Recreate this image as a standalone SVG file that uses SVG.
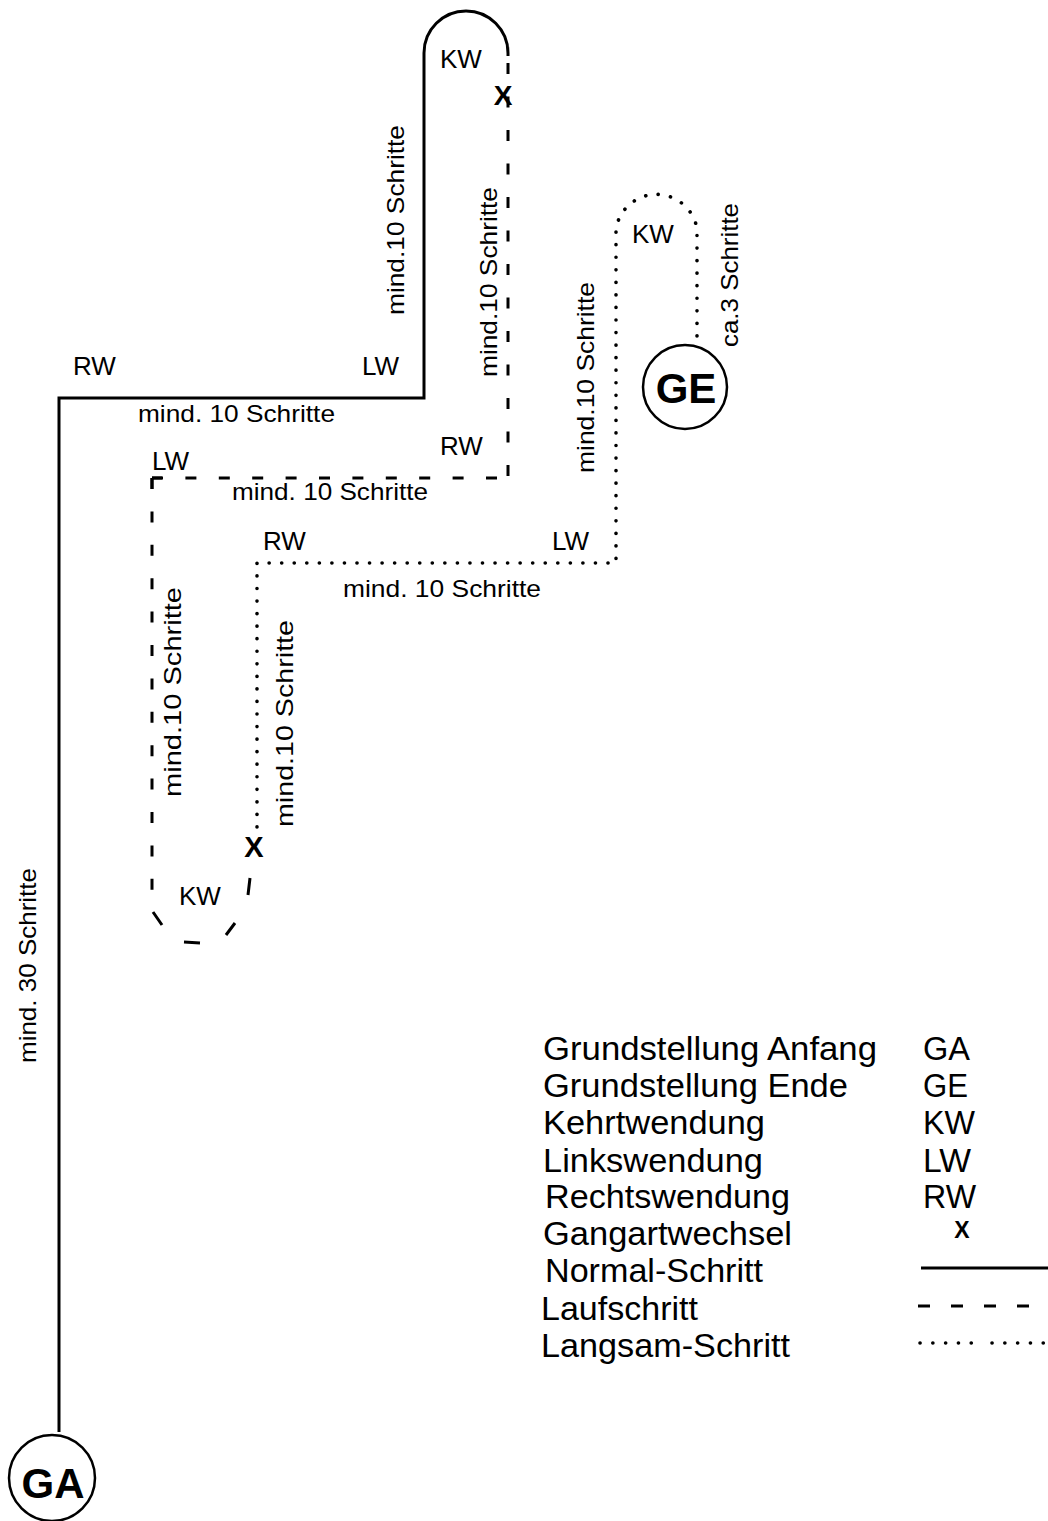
<svg xmlns="http://www.w3.org/2000/svg" width="1048" height="1521" viewBox="0 0 1048 1521">
<style>
text{font-family:"Liberation Sans",Arial,sans-serif;fill:#000}
.lbl{font-size:26px}
.sm{font-size:24px}
.leg{font-size:33px}
.bold{font-weight:bold}
.solid{fill:none;stroke:#000;stroke-width:3}
.dash{fill:none;stroke:#000;stroke-width:3;stroke-dasharray:11 22.4}
.dot{fill:none;stroke:#000;stroke-width:3.6;stroke-linecap:round;stroke-dasharray:0.1 12.45}
.node{fill:#fff;stroke:#000;stroke-width:2.5}
</style>
<rect width="1048" height="1521" fill="#fff"/>
<g id="connectors">
  <path class="solid" d="M59 1432 V398 H424 V53 A42 42 0 0 1 508 53 V56"/>
  <path class="dash" style="stroke-dasharray:11 22.5" d="M508 63 V478"/>
  <path class="dash" d="M152 478 H508"/>
  <path class="dash" d="M152 478 V890"/>
  <path class="dash" d="M152 478 V489 M152 478 H162" style="stroke-dasharray:none"/>
  <path class="solid" d="M153 912 L162 925 M184 942 L200 943 M226 935 L235 923 M248 895 L250 878"/>
  <path class="dot" d="M257 827 V563 H616 V229 A41 41 0 0 1 697 229 V342"/>
</g>
<g id="GA"><circle class="node" cx="52" cy="1478" r="43"/><text class="bold" x="53" y="1498" font-size="42" text-anchor="middle">GA</text></g>
<g id="GE"><circle class="node" cx="685" cy="387" r="42"/><text class="bold" x="686" y="403" font-size="42" text-anchor="middle">GE</text></g>
<g id="marks">
  <text class="bold" x="503" y="105" font-size="28" text-anchor="middle">X</text>
  <text class="bold" x="254" y="857" font-size="29" text-anchor="middle">X</text>
</g>
<g id="labels">
  <text class="lbl" x="440" y="68">KW</text>
  <text class="lbl" x="632" y="243">KW</text>
  <text class="lbl" x="179" y="905">KW</text>
  <text class="lbl" x="73" y="375">RW</text>
  <text class="lbl" x="362" y="375">LW</text>
  <text class="lbl" x="440" y="455">RW</text>
  <text class="lbl" x="152" y="470">LW</text>
  <text class="lbl" x="263" y="550">RW</text>
  <text class="lbl" x="552" y="550">LW</text>
  <text class="sm" x="138" y="422" textLength="197" lengthAdjust="spacingAndGlyphs">mind. 10 Schritte</text>
  <text class="sm" x="232" y="500" textLength="196" lengthAdjust="spacingAndGlyphs">mind. 10 Schritte</text>
  <text class="sm" x="343" y="597" textLength="198" lengthAdjust="spacingAndGlyphs">mind. 10 Schritte</text>
  <text class="sm" transform="translate(404,315) rotate(-90)" textLength="190" lengthAdjust="spacingAndGlyphs">mind.10 Schritte</text>
  <text class="sm" transform="translate(497,377) rotate(-90)" textLength="190" lengthAdjust="spacingAndGlyphs">mind.10 Schritte</text>
  <text class="sm" transform="translate(594,473) rotate(-90)" textLength="191" lengthAdjust="spacingAndGlyphs">mind.10 Schritte</text>
  <text class="sm" transform="translate(181,797) rotate(-90)" textLength="210" lengthAdjust="spacingAndGlyphs">mind.10 Schritte</text>
  <text class="sm" transform="translate(293,827) rotate(-90)" textLength="207" lengthAdjust="spacingAndGlyphs">mind.10 Schritte</text>
  <text class="sm" transform="translate(738,347) rotate(-90)" textLength="144" lengthAdjust="spacingAndGlyphs">ca.3 Schritte</text>
  <text class="sm" transform="translate(36,1063) rotate(-90)" textLength="195" lengthAdjust="spacingAndGlyphs">mind. 30 Schritte</text>
</g>
<g id="legend">
  <text class="leg" x="543" y="1060" textLength="334" lengthAdjust="spacingAndGlyphs">Grundstellung Anfang</text>
  <text class="leg" x="543" y="1097" textLength="305" lengthAdjust="spacingAndGlyphs">Grundstellung Ende</text>
  <text class="leg" x="543" y="1134" textLength="222" lengthAdjust="spacingAndGlyphs">Kehrtwendung</text>
  <text class="leg" x="543" y="1172" textLength="220" lengthAdjust="spacingAndGlyphs">Linkswendung</text>
  <text class="leg" x="545" y="1208" textLength="245" lengthAdjust="spacingAndGlyphs">Rechtswendung</text>
  <text class="leg" x="543" y="1245" textLength="249" lengthAdjust="spacingAndGlyphs">Gangartwechsel</text>
  <text class="leg" x="545" y="1282" textLength="218" lengthAdjust="spacingAndGlyphs">Normal-Schritt</text>
  <text class="leg" x="541" y="1320" textLength="157" lengthAdjust="spacingAndGlyphs">Laufschritt</text>
  <text class="leg" x="541" y="1357" textLength="249" lengthAdjust="spacingAndGlyphs">Langsam-Schritt</text>
  <text class="leg" x="923" y="1060" textLength="47" lengthAdjust="spacingAndGlyphs">GA</text>
  <text class="leg" x="923" y="1097" textLength="45" lengthAdjust="spacingAndGlyphs">GE</text>
  <text class="leg" x="923" y="1134" textLength="52" lengthAdjust="spacingAndGlyphs">KW</text>
  <text class="leg" x="923" y="1172" textLength="48" lengthAdjust="spacingAndGlyphs">LW</text>
  <text class="leg" x="923" y="1208" textLength="53" lengthAdjust="spacingAndGlyphs">RW</text>
  <text class="bold" x="962" y="1238" font-size="23" text-anchor="middle">X</text>
  <path class="solid" d="M921 1268 H1048"/>
  <path class="dash" style="stroke-dasharray:12 21" d="M918 1306 H1048"/>
  <path class="dot" style="stroke-dasharray:0.1 12.7" d="M920 1343 H972 M992 1343 H1046"/>
</g>
</svg>
